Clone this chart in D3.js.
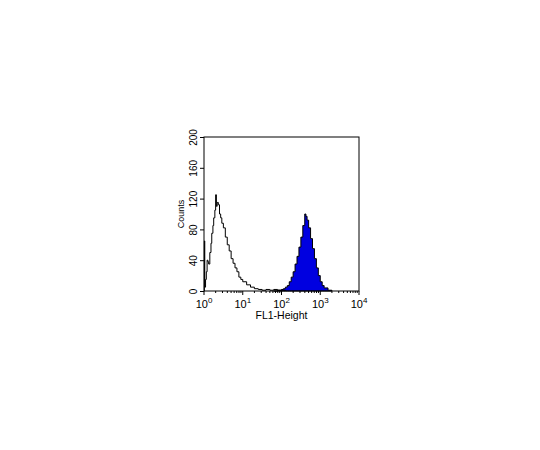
<!DOCTYPE html><html><head><script src="https://cdn.jsdelivr.net/npm/d3@7"></script>
<style>body{margin:0;background:#fff}</style></head><body><svg width="540" height="450"></svg><script>
const yTicks=[0,40,80,120,160,200];
const xDecades=[0,1,2,3,4];
const ctrlLog=[0,0.01,0.02,0.04,0.06,0.08,0.1,0.12,0.15,0.18,0.2,0.23,0.25,0.28,0.3,0.32,0.34,0.37,0.4,0.43,0.46,0.5,0.55,0.6,0.65,0.7,0.75,0.8,0.85,0.9,0.95,1.0,1.1,1.2,1.3,1.4,1.5,1.6,1.7,1.8,1.9,2.0,2.1];
const ctrlCnt=[0,65,5,15,25,40,38,35,50,62,75,85,95,105,125,110,115,112,100,95,88,82,70,60,52,42,36,30,25,18,15,12,8,5,3,2,1,2,1,2,1,1,0];
const stainLog=[1.8,1.9,2.0,2.05,2.1,2.15,2.2,2.25,2.3,2.35,2.4,2.45,2.5,2.55,2.6,2.63,2.66,2.7,2.75,2.8,2.85,2.9,2.95,3.0,3.05,3.1,3.2,3.3];
const stainCnt=[0,1,2,3,5,7,12,18,25,35,45,57,70,85,100,97,92,82,68,55,42,30,20,12,7,4,1,0];
const svg=d3.select("svg");
const L=204,R=359,T=137,B=291;
const x=d3.scaleLinear().domain([0,4]).range([L,R]);
const y=d3.scaleLinear().domain([0,200]).range([B,T]);
const stain=stainLog.map((v,i)=>[v,stainCnt[i]]);
const ctrl=ctrlLog.map((v,i)=>[v,ctrlCnt[i]]);
svg.append("path").attr("d",d3.area().x(d=>x(d[0])).y0(B).y1(d=>y(d[1])).curve(d3.curveStepAfter)(stain)).attr("fill","#0000e0").attr("stroke","#000").attr("stroke-width",1);
svg.append("path").attr("d",d3.line().x(d=>x(d[0])).y(d=>y(d[1])).curve(d3.curveStepAfter)(ctrl)).attr("fill","none").attr("stroke","#000").attr("stroke-width",1);
svg.append("rect").attr("x",L).attr("y",T).attr("width",R-L).attr("height",B-T).attr("fill","none").attr("stroke","#000");
const ya=svg.append("g").attr("transform",`translate(${L},0)`).call(d3.axisLeft(y).tickValues(yTicks).tickSize(4).tickFormat(d3.format("d")));
ya.selectAll(".domain").remove();
ya.selectAll("text").attr("x",0).attr("y",0).attr("dy","0").attr("text-anchor","middle")
  .attr("transform","translate(-7,0) rotate(-90)")
  .attr("font-family","Arial, Liberation Sans").attr("font-size",10).attr("fill","#000");
const xa=svg.append("g").attr("transform",`translate(0,${B})`);
const minor=[];xDecades.slice(0,4).forEach(d=>{for(let k=2;k<10;k++)minor.push(d+Math.log10(k));});
xa.selectAll("line.mj").data(xDecades).join("line").attr("x1",d=>x(d)).attr("x2",d=>x(d)).attr("y1",0).attr("y2",4).attr("stroke","#000");
xa.selectAll("line.mn").data(minor).join("line").attr("x1",d=>x(d)).attr("x2",d=>x(d)).attr("y1",0).attr("y2",2).attr("stroke","#000");
const tx=xa.selectAll("text").data(xDecades).join("text").attr("x",d=>x(d)).attr("y",17).attr("text-anchor","middle").attr("font-family","Arial, Liberation Sans").attr("font-size",11);
tx.append("tspan").text("10");tx.append("tspan").text(d=>d).attr("dy",-5).attr("font-size",8);
svg.append("text").attr("x",(L+R)/2).attr("y",B+28).attr("text-anchor","middle").attr("font-family","Arial, Liberation Sans").attr("font-size",10.5).text("FL1-Height");
svg.append("text").attr("transform",`translate(${L-20},${(T+B)/2}) rotate(-90)`).attr("text-anchor","middle").attr("font-family","Arial, Liberation Sans").attr("font-size",9).text("Counts");
</script></body></html>
